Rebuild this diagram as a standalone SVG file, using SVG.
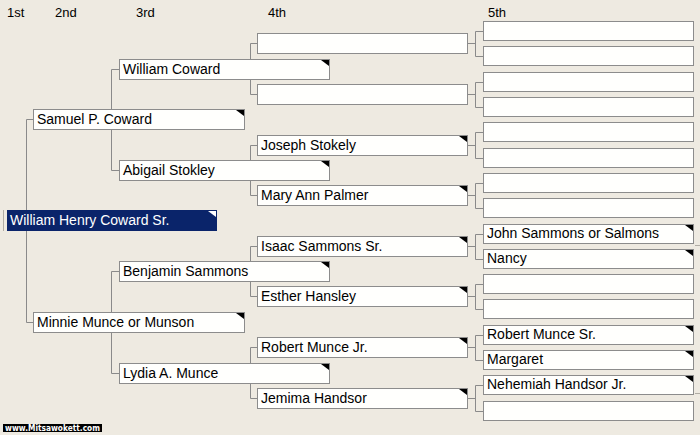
<svg xmlns="http://www.w3.org/2000/svg" width="700" height="435" viewBox="0 0 700 435">
<style>
.bg{fill:#eeeae1}
.box{fill:#fffffd;stroke:#8c8c8c;stroke-width:1}
.sel{fill:#0a246a;stroke:#0a246a;stroke-width:1}
.t{font-family:"Liberation Sans",Arial,sans-serif;font-size:14px;fill:#000}
.ts{font-family:"Liberation Sans",Arial,sans-serif;font-size:14px;fill:#fff}
.h{font-family:"Liberation Sans",Arial,sans-serif;font-size:13px;fill:#000}
.tri{fill:#000}
.triw{fill:#fff}
.c{fill:none;stroke:#8a8a8a;stroke-width:1}
.cf{fill:none;stroke:#b0aca4;stroke-width:1}
</style>
<rect class="bg" x="0" y="0" width="700" height="435"/>
<g id="headers">
<text class="h" x="7" y="17">1st</text>
<text class="h" x="55" y="17">2nd</text>
<text class="h" x="136" y="17">3rd</text>
<text class="h" x="268" y="17">4th</text>
<text class="h" x="488" y="17">5th</text>
</g>
<g id="connectors">
<path class="cf" d="M3.5,210 V231"/>
<path class="c" d="M26.5,119.5 V322.5 M26.5,119.5 H33 M26.5,322.5 H33"/>
<path class="c" d="M111.5,69.5 V170.5 M111.5,69.5 H119 M111.5,170.5 H119"/>
<path class="c" d="M111.5,271.5 V373.5 M111.5,271.5 H119 M111.5,373.5 H119"/>
<path class="c" d="M250.5,43.5 V94.5 M250.5,43.5 H257 M250.5,94.5 H257"/>
<path class="c" d="M250.5,145.5 V195.5 M250.5,145.5 H257 M250.5,195.5 H257"/>
<path class="c" d="M250.5,246.5 V296.5 M250.5,246.5 H257 M250.5,296.5 H257"/>
<path class="c" d="M250.5,347.5 V398.5 M250.5,347.5 H257 M250.5,398.5 H257"/>
<path class="c" d="M467,43.5 H475.5 M475.5,31.5 V56.5 M475.5,31.5 H483 M475.5,56.5 H483"/>
<path class="c" d="M467,94.5 H475.5 M475.5,82.5 V107.5 M475.5,82.5 H483 M475.5,107.5 H483"/>
<path class="c" d="M467,145.5 H475.5 M475.5,132.5 V158.5 M475.5,132.5 H483 M475.5,158.5 H483"/>
<path class="c" d="M467,195.5 H475.5 M475.5,183.5 V208.5 M475.5,183.5 H483 M475.5,208.5 H483"/>
<path class="c" d="M467,246.5 H475.5 M475.5,234.5 V259.5 M475.5,234.5 H483 M475.5,259.5 H483"/>
<path class="c" d="M467,296.5 H475.5 M475.5,284.5 V309.5 M475.5,284.5 H483 M475.5,309.5 H483"/>
<path class="c" d="M467,347.5 H475.5 M475.5,335.5 V360.5 M475.5,335.5 H483 M475.5,360.5 H483"/>
<path class="c" d="M467,398.5 H475.5 M475.5,385.5 V411.5 M475.5,385.5 H483 M475.5,411.5 H483"/>
<path class="cf" d="M695,245.5 H700 M695,393.5 H700"/>
</g>
<g id="g1">
<rect class="sel" x="7.5" y="210.5" width="209" height="20"/>
<polygon class="triw" points="208,211 216,211 216,217"/>
<text class="ts" x="10" y="225">William Henry Coward Sr.</text>
</g>
<g id="g2a"><rect class="box" x="33.5" y="109.5" width="211" height="20"/><polygon class="tri" points="236,110 244,110 244,116"/><text class="t" x="37" y="124">Samuel P. Coward</text></g>
<g id="g2b"><rect class="box" x="33.5" y="312.5" width="211" height="20"/><polygon class="tri" points="236,313 244,313 244,319"/><text class="t" x="37" y="327">Minnie Munce or Munson</text></g>
<g id="g3a"><rect class="box" x="119.5" y="59.5" width="210" height="20"/><polygon class="tri" points="321,60 329,60 329,66"/><text class="t" x="123" y="74">William Coward</text></g>
<g id="g3b"><rect class="box" x="119.5" y="160.5" width="210" height="20"/><polygon class="tri" points="321,161 329,161 329,167"/><text class="t" x="123" y="175">Abigail Stokley</text></g>
<g id="g3c"><rect class="box" x="119.5" y="261.5" width="210" height="20"/><polygon class="tri" points="321,262 329,262 329,268"/><text class="t" x="123" y="276">Benjamin Sammons</text></g>
<g id="g3d"><rect class="box" x="119.5" y="363.5" width="210" height="20"/><polygon class="tri" points="321,364 329,364 329,370"/><text class="t" x="123" y="378">Lydia A. Munce</text></g>
<g id="g4a"><rect class="box" x="257.5" y="33.5" width="210" height="20"/></g>
<g id="g4b"><rect class="box" x="257.5" y="84.5" width="210" height="20"/></g>
<g id="g4c"><rect class="box" x="257.5" y="135.5" width="210" height="20"/><polygon class="tri" points="459,136 467,136 467,142"/><text class="t" x="261" y="150">Joseph Stokely</text></g>
<g id="g4d"><rect class="box" x="257.5" y="185.5" width="210" height="20"/><polygon class="tri" points="459,186 467,186 467,192"/><text class="t" x="261" y="200">Mary Ann Palmer</text></g>
<g id="g4e"><rect class="box" x="257.5" y="236.5" width="210" height="20"/><polygon class="tri" points="459,237 467,237 467,243"/><text class="t" x="261" y="251">Isaac Sammons Sr.</text></g>
<g id="g4f"><rect class="box" x="257.5" y="286.5" width="210" height="20"/><polygon class="tri" points="459,287 467,287 467,293"/><text class="t" x="261" y="301">Esther Hansley</text></g>
<g id="g4g"><rect class="box" x="257.5" y="337.5" width="210" height="20"/><polygon class="tri" points="459,338 467,338 467,344"/><text class="t" x="261" y="352">Robert Munce Jr.</text></g>
<g id="g4h"><rect class="box" x="257.5" y="388.5" width="210" height="20"/><polygon class="tri" points="459,389 467,389 467,395"/><text class="t" x="261" y="403">Jemima Handsor</text></g>
<g id="g5a"><rect class="box" x="483.5" y="21.5" width="210" height="19"/></g>
<g id="g5b"><rect class="box" x="483.5" y="46.5" width="210" height="19"/></g>
<g id="g5c"><rect class="box" x="483.5" y="72.5" width="210" height="19"/></g>
<g id="g5d"><rect class="box" x="483.5" y="97.5" width="210" height="19"/></g>
<g id="g5e"><rect class="box" x="483.5" y="122.5" width="210" height="19"/></g>
<g id="g5f"><rect class="box" x="483.5" y="148.5" width="210" height="19"/></g>
<g id="g5g"><rect class="box" x="483.5" y="173.5" width="210" height="19"/></g>
<g id="g5h"><rect class="box" x="483.5" y="198.5" width="210" height="19"/></g>
<g id="g5i"><rect class="box" x="483.5" y="224.5" width="210" height="19"/><polygon class="tri" points="685,225 693,225 693,231"/><text class="t" x="487" y="238">John Sammons or Salmons</text></g>
<g id="g5j"><rect class="box" x="483.5" y="249.5" width="210" height="19"/><polygon class="tri" points="685,250 693,250 693,256"/><text class="t" x="487" y="263">Nancy</text></g>
<g id="g5k"><rect class="box" x="483.5" y="274.5" width="210" height="19"/></g>
<g id="g5l"><rect class="box" x="483.5" y="299.5" width="210" height="19"/></g>
<g id="g5m"><rect class="box" x="483.5" y="325.5" width="210" height="19"/><polygon class="tri" points="685,326 693,326 693,332"/><text class="t" x="487" y="339">Robert Munce Sr.</text></g>
<g id="g5n"><rect class="box" x="483.5" y="350.5" width="210" height="19"/><polygon class="tri" points="685,351 693,351 693,357"/><text class="t" x="487" y="364">Margaret</text></g>
<g id="g5o"><rect class="box" x="483.5" y="375.5" width="210" height="19"/><polygon class="tri" points="685,376 693,376 693,382"/><text class="t" x="487" y="389">Nehemiah Handsor Jr.</text></g>
<g id="g5p"><rect class="box" x="483.5" y="401.5" width="210" height="19"/></g>
<g id="logo">
<rect x="3" y="424" width="99" height="8" fill="#000"/>
<text x="5" y="431" font-family="'DejaVu Sans',Verdana,sans-serif" font-weight="bold" font-size="8" fill="#fff" textLength="95" lengthAdjust="spacingAndGlyphs">www.Mitsawokett.com</text>
</g>
</svg>
